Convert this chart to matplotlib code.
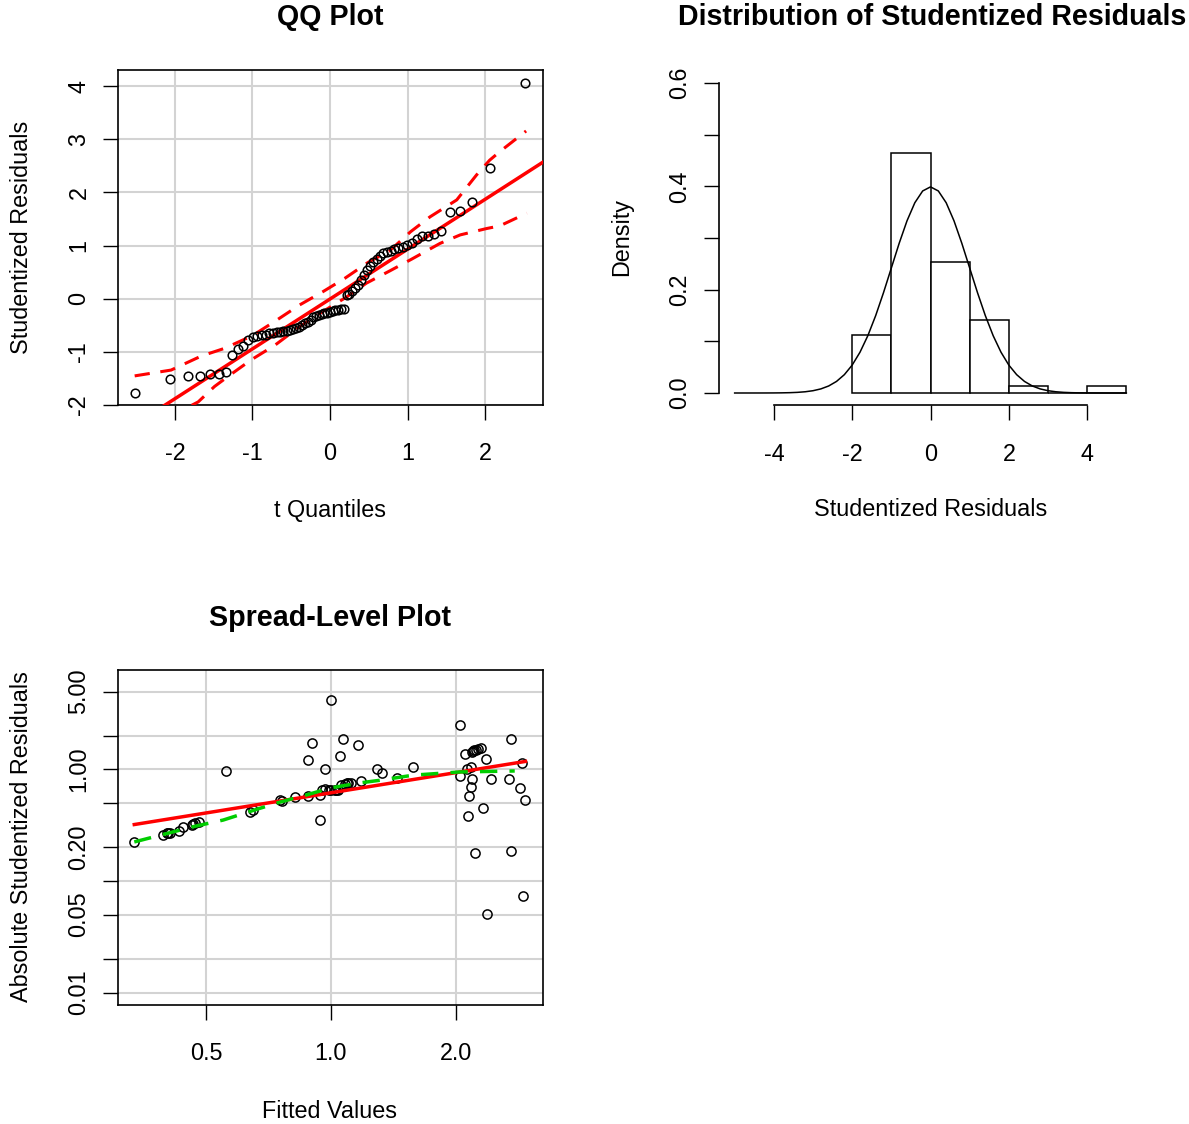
import numpy as np
import matplotlib
matplotlib.use("Agg")
import matplotlib.pyplot as plt
from matplotlib.ticker import FixedLocator, FixedFormatter, NullLocator
from statistics import NormalDist

plt.rcParams['font.family'] = ['Liberation Sans', 'DejaVu Sans']
plt.rcParams['axes.unicode_minus'] = False

# ---------------- data ----------------
# sorted studentized residuals (n = 71)
stud_resid = [-1.78, -1.51, -1.47, -1.47, -1.43, -1.43, -1.39, -1.07,
              -0.96, -0.90, -0.78, -0.72, -0.71, -0.69, -0.68, -0.66, -0.65, -0.64,
              -0.63, -0.62, -0.61, -0.59, -0.58, -0.56, -0.53, -0.50, -0.47, -0.44,
              -0.40, -0.35, -0.33, -0.31, -0.30, -0.28, -0.27, -0.25, -0.23, -0.22,
              -0.21, -0.20, -0.19,
              0.06, 0.09, 0.14, 0.20, 0.26, 0.35, 0.45, 0.53, 0.61, 0.68,
              0.75, 0.81, 0.85, 0.87, 0.90, 0.93, 0.95, 0.97,
              1.01, 1.04, 1.12, 1.17, 1.18, 1.22, 1.28, 1.64, 1.66, 1.82,
              2.47, 4.06]
resid_df = 68

# QQ reference line (intercept, slope)
qq_line = (-0.01, 0.94)

# simulated confidence envelope
env_upper_t = [-2.52, -2.05, -1.66, -1.36, -1.00, -0.70, -0.39, -0.09, 0.19, 0.49,
               0.77, 1.04, 1.29, 1.635, 1.89, 2.06, 2.19, 2.53]
env_upper = [-1.46, -1.35, -1.085, -0.94, -0.70, -0.42, -0.12, 0.13, 0.38, 0.68,
             0.90, 1.26, 1.54, 1.86, 2.33, 2.61, 2.77, 3.16]
env_lower_t = [-2.52, -2.05, -1.83, -1.70, -1.49, -1.32, -1.02, -0.71, -0.39, -0.13,
               0.215, 0.47, 0.77, 1.05, 1.42, 1.68, 2.02, 2.19, 2.54]
env_lower = [-3.0, -2.45, -2.05, -1.95, -1.66, -1.475, -1.16, -0.88, -0.53, -0.28,
             0.03, 0.29, 0.52, 0.74, 1.04, 1.20, 1.32, 1.37, 1.61]

# histogram
hist_breaks = [-2, -1, 0, 1, 2, 3, 4, 5]
dens_range = (-5, 5)

# spread-level plot
fitted_vals = [0.336, 0.393, 0.402, 0.405, 0.410, 0.431, 0.439, 0.462, 0.466, 0.470,
               0.481, 0.558, 0.638, 0.650,
               0.754, 0.761, 0.820, 0.880, 0.940, 0.950, 0.970, 0.990, 1.000, 1.020,
               1.030, 1.040, 1.060, 1.080, 1.090, 1.100, 1.120, 1.180, 1.290, 1.330,
               1.440, 1.580, 0.900, 0.880, 0.970, 1.050, 1.070, 1.160, 0.940, 1.000,
               2.05, 2.10, 2.18, 2.20, 2.21, 2.23, 2.26, 2.30, 2.13, 2.17,
               2.05, 2.18, 2.17, 2.15, 2.14, 2.36, 2.43, 2.32, 2.22, 2.38,
               2.71, 2.68, 2.88, 2.85, 2.94, 2.71, 2.90]
abs_resid = [0.225, 0.261, 0.270, 0.272, 0.270, 0.279, 0.304, 0.317, 0.326, 0.330,
             0.337, 0.960, 0.418, 0.432,
             0.531, 0.520, 0.565, 0.580, 0.590, 0.650, 0.670, 0.660, 0.655, 0.655,
             0.660, 0.655, 0.720, 0.740, 0.750, 0.760, 0.750, 0.790, 1.000, 0.930,
             0.840, 1.060, 1.730, 1.220, 1.020, 1.320, 1.870, 1.660, 0.350, 4.240,
             2.51, 1.38, 1.44, 1.47, 1.49, 1.50, 1.52, 1.55, 1.00, 1.06,
             0.875, 0.82, 0.70, 0.58, 0.385, 1.23, 0.82, 0.45, 0.177, 0.0506,
             1.87, 0.82, 1.15, 0.68, 0.53, 0.186, 0.0735]
sl_line = (-0.209, 0.601)   # log10(abs) = a + b*log10(fitted)
lowess_x = [0.336, 0.40, 0.466, 0.55, 0.663, 0.754, 0.885, 1.0, 1.18, 1.31, 1.58, 2.04, 2.77]
lowess_y = [0.224, 0.265, 0.307, 0.352, 0.44, 0.51, 0.60, 0.685, 0.76, 0.80, 0.89, 0.95, 0.97]

# ---------------- figure ----------------
W, H = 1189, 1124
fig = plt.figure(figsize=(W / 100, H / 100), dpi=100)

def box(l, t, r, b):
    return [l / W, 1 - b / H, (r - l) / W, (b - t) / H]

FS = 16.8
TFS = 20.6
RED = '#FF0000'
GREEN = '#00CD00'
GRID = '#D3D3D3'

def style_ticks(ax):
    ax.tick_params(axis='both', which='both', direction='out', length=10.8, width=1.0,
                   labelsize=FS, color='black')
    ax.tick_params(axis='x', pad=16)
    ax.tick_params(axis='y', pad=9, labelrotation=90)
    for lab in ax.get_yticklabels():
        lab.set_verticalalignment('center')

def ftext(x, y, s, **kw):
    fig.text(x / W, 1 - y / H, s, ha='center', va='center', **kw)

# ---- QQ plot ----
ax1 = fig.add_axes(box(118, 70, 543, 405))
n = len(stud_resid)
nd = NormalDist()
zq = np.array([nd.inv_cdf((i - 0.5) / n) for i in range(1, n + 1)])
tq = zq + (zq ** 3 + zq) / (4 * resid_df)
ax1.set_xlim(-2.735, 2.748)
ax1.set_ylim(-2.009, 4.311)
ax1.set_xticks([-2, -1, 0, 1, 2])
ax1.set_yticks([-2, -1, 0, 1, 2, 3, 4])
ax1.grid(True, color=GRID, lw=1.5)
ax1.set_axisbelow(True)
xl = np.array(ax1.get_xlim())
ax1.plot(xl, qq_line[0] + qq_line[1] * xl, color=RED, lw=2.5, zorder=3)
ax1.plot(env_upper_t, env_upper, color=RED, lw=2.2, dashes=(5, 3.5), zorder=3)
ax1.plot(env_lower_t, env_lower, color=RED, lw=2.2, dashes=(5, 3.5), zorder=3)
ax1.plot(tq, stud_resid, 'o', mfc='none', mec='black', ms=6.2, mew=1.1, zorder=4)
for s in ax1.spines.values():
    s.set_linewidth(1.2)
style_ticks(ax1)
ftext(330, 17, 'QQ Plot', fontsize=TFS, fontweight='bold')
ftext(330, 510, 't Quantiles', fontsize=FS)
ftext(22, 237.5, 'Studentized Residuals', fontsize=FS, rotation=90)

# ---- Histogram ----
ax2 = fig.add_axes(box(719, 70.6, 1142, 405.4))
ax2.hist(stud_resid, bins=hist_breaks, density=True, facecolor='white',
         edgecolor='black', linewidth=1.1)
dx = np.linspace(dens_range[0], dens_range[1], 51)
dy = [nd.pdf(v) for v in dx]
ax2.plot(dx, dy, color='black', lw=1.1)
ax2.set_xlim(-5.4, 5.4)
ax2.set_ylim(-0.024, 0.624)
ax2.set_xticks([-4, -2, 0, 2, 4])
ax2.set_yticks([0.0, 0.1, 0.2, 0.3, 0.4, 0.5, 0.6])
ax2.set_yticklabels(['0.0', '', '0.2', '', '0.4', '', '0.6'])
ax2.spines['top'].set_visible(False)
ax2.spines['right'].set_visible(False)
ax2.spines['bottom'].set_bounds(-4, 4)
ax2.spines['left'].set_bounds(0, 0.6)
for s in ax2.spines.values():
    s.set_linewidth(1.2)
style_ticks(ax2)
ftext(932, 17, 'Distribution of Studentized Residuals', fontsize=TFS, fontweight='bold')
ftext(931, 510, 'Studentized Residuals', fontsize=FS)
ftext(622, 237.5, 'Density', fontsize=FS, rotation=90)

# ---- Spread-Level plot ----
ax3 = fig.add_axes(box(118, 670, 543, 1005))
ax3.set_xscale('log')
ax3.set_yscale('log')
ax3.set_xlim(0.307, 3.24)
ax3.set_ylim(0.00773, 7.8)
ax3.xaxis.set_major_locator(FixedLocator([0.5, 1.0, 2.0]))
ax3.xaxis.set_major_formatter(FixedFormatter(['0.5', '1.0', '2.0']))
ax3.xaxis.set_minor_locator(NullLocator())
yt = [0.01, 0.02, 0.05, 0.1, 0.2, 0.5, 1, 2, 5]
ax3.yaxis.set_major_locator(FixedLocator(yt))
ax3.yaxis.set_major_formatter(FixedFormatter(['0.01', '', '0.05', '', '0.20', '', '1.00', '', '5.00']))
ax3.yaxis.set_minor_locator(NullLocator())
ax3.grid(True, color=GRID, lw=1.5)
ax3.set_axisbelow(True)
ax3.plot(fitted_vals, abs_resid, 'o', mfc='none', mec='black', ms=6.6, mew=1.1, zorder=3)
fx = np.array([min(fitted_vals), max(fitted_vals)])
ax3.plot(fx, 10 ** (sl_line[0] + sl_line[1] * np.log10(fx)), color=RED, lw=2.5, zorder=4)
ax3.plot(lowess_x, lowess_y, color=GREEN, lw=2.5, dashes=(5, 3.5), zorder=4)
for s in ax3.spines.values():
    s.set_linewidth(1.2)
style_ticks(ax3)
ftext(330, 618, 'Spread-Level Plot', fontsize=TFS, fontweight='bold')
ftext(330, 1111, 'Fitted Values', fontsize=FS)
ftext(22, 837, 'Absolute Studentized Residuals', fontsize=FS, rotation=90)

fig.savefig('out.png', dpi=100, facecolor='white')
